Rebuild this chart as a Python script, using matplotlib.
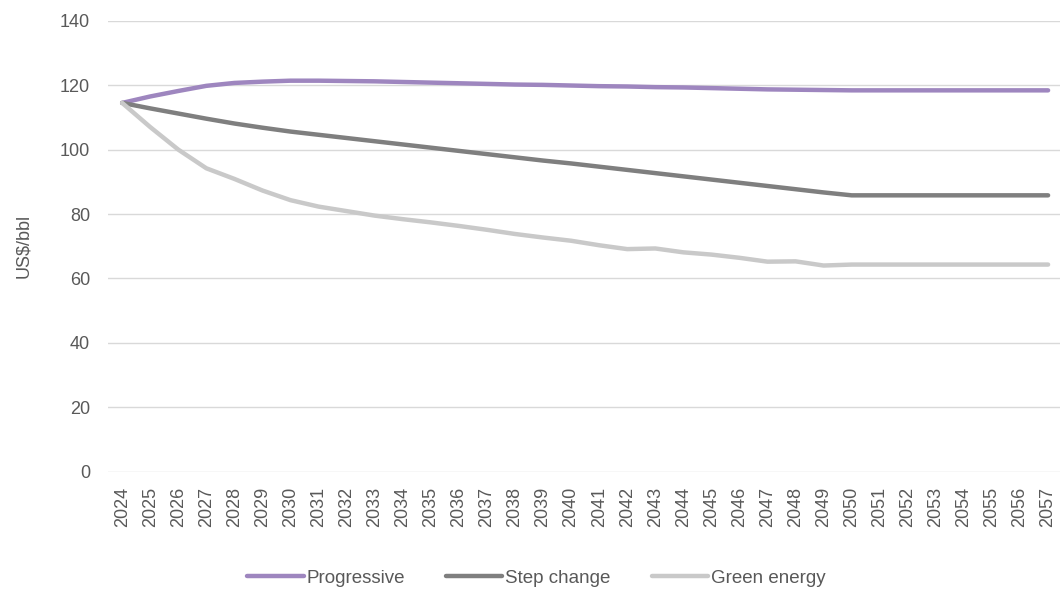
import matplotlib.pyplot as plt

plt.rcParams['font.family'] = ['Liberation Sans Narrow', 'Liberation Sans', 'DejaVu Sans']

years = list(range(2024, 2058))

progressive = [114.5, 116.5, 118.2, 119.8, 120.7, 121.1, 121.4, 121.4, 121.3, 121.2,
               121.0, 120.8, 120.6, 120.4, 120.2, 120.1, 119.9, 119.7, 119.6, 119.4,
               119.3, 119.1, 118.9, 118.7, 118.6, 118.5, 118.4, 118.4, 118.4, 118.4,
               118.4, 118.4, 118.4, 118.4]
step_change = [114.5, 112.8, 111.2, 109.6, 108.1, 106.8, 105.6, 104.6, 103.6, 102.6,
               101.6, 100.6, 99.6, 98.6, 97.6, 96.6, 95.7, 94.7, 93.7, 92.7,
               91.7, 90.7, 89.7, 88.7, 87.7, 86.7, 85.8, 85.8, 85.8, 85.8,
               85.8, 85.8, 85.8, 85.8]
green_energy = [114.5, 107.0, 100.0, 94.2, 90.9, 87.3, 84.3, 82.3, 80.9, 79.5,
                78.4, 77.4, 76.3, 75.1, 73.8, 72.7, 71.7, 70.3, 69.1, 69.3,
                68.1, 67.4, 66.4, 65.2, 65.3, 64.0, 64.3, 64.3, 64.3, 64.3,
                64.3, 64.3, 64.3, 64.3]

series = [
    ("Progressive", progressive, "#9E86BF"),
    ("Step change", step_change, "#7F7F7F"),
    ("Green energy", green_energy, "#C9C9C9"),
]

text_color = "#595959"

fig = plt.figure(figsize=(10.6, 5.94), dpi=100)
ax = fig.add_axes([0.102, 0.206, 0.9, 0.759])

for name, vals, col in series:
    ax.plot(years, vals, color=col, lw=3.2, label=name,
            solid_capstyle="round", solid_joinstyle="round")

ax.set_xlim(2023.5, 2057.5)
ax.set_ylim(0, 140)
ax.set_yticks(range(0, 141, 20))
ax.set_xticks(years)
ax.set_xticklabels([str(y) for y in years], rotation=90)
ax.grid(axis="y", color="#D9D9D9", lw=1)
ax.set_axisbelow(True)
for s in ax.spines.values():
    s.set_visible(False)
ax.tick_params(axis="both", length=0, colors=text_color, labelsize=13)
ax.tick_params(axis="x", pad=11)
ax.tick_params(axis="y", pad=13)
ax.set_ylabel("US$/bbl", color=text_color, fontsize=13, labelpad=20)

# legend row under the year labels
fig.legend(loc="center", bbox_to_anchor=(0.506, 0.027), ncol=3, frameon=False,
           fontsize=13.5, labelcolor=text_color, handlelength=3.0,
           handletextpad=0.15, columnspacing=2.2)

fig.savefig("out.png", dpi=100)
